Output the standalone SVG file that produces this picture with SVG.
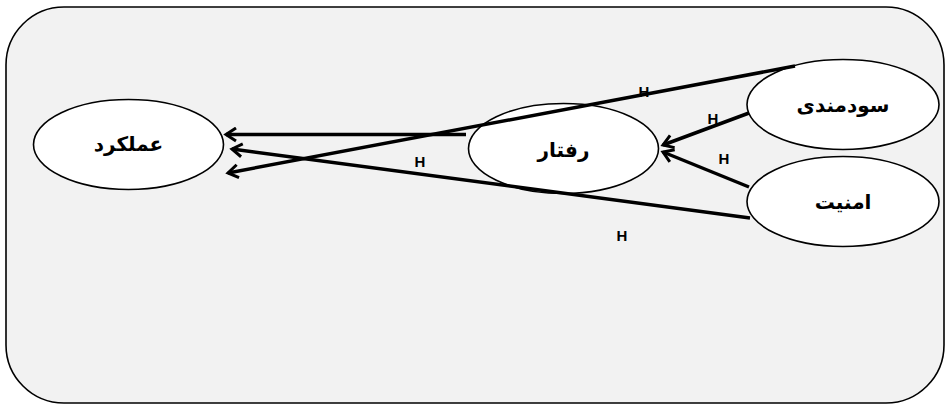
<svg xmlns="http://www.w3.org/2000/svg" width="948" height="408" viewBox="0 0 948 408">
<defs>
<marker id="arr" markerWidth="16" markerHeight="16" viewBox="0 0 16 16" refX="13" refY="8" orient="auto" markerUnits="userSpaceOnUse">
<polyline points="3,1.5 13,8 3,14.5" fill="none" stroke="#000" stroke-width="3"/>
</marker>
<style>
.node ellipse{fill:#fff;stroke:#000;stroke-width:1.6}
.node text{font-family:"DejaVu Sans","Noto Sans",sans-serif;font-weight:bold;font-size:20px;text-anchor:middle;dominant-baseline:central;fill:#000}
.edge{stroke:#000;stroke-width:3.5;fill:none}
.arr{marker-end:url(#arr)}
.lbl{font-family:"Liberation Sans",Arial,sans-serif;font-size:15px;font-weight:bold;fill:#000;text-anchor:middle}
</style>
</defs>
<rect x="6" y="7" width="938" height="396" rx="58" ry="58" fill="#f2f2f2" stroke="#000" stroke-width="1.6"/>
<g id="node-amalkard" class="node"><ellipse cx="128.5" cy="144.5" rx="95" ry="45"/><text x="128.5" y="144">عملکرد</text></g>
<g id="node-raftar" class="node"><ellipse cx="563.5" cy="148.5" rx="95" ry="45"/><text x="563.5" y="150">رفتار</text></g>
<g id="node-sudmandi" class="node"><ellipse cx="843" cy="104.5" rx="96" ry="45"/><text x="843" y="105">سودمندی</text></g>
<g id="node-amniat" class="node"><ellipse cx="843" cy="201.5" rx="96" ry="45"/><text x="843" y="202">امنیت</text></g>
<g id="connectors">
<line class="edge arr" x1="466" y1="134.5" x2="226" y2="134.5"/>
<line class="edge arr" x1="795" y1="66" x2="228" y2="173"/>
<line class="edge arr" x1="750" y1="218" x2="232" y2="149"/>
<line class="edge arr" x1="749" y1="113" x2="663" y2="145"/>
<line class="edge arr" x1="749" y1="187" x2="663" y2="152"/>
</g>
<g id="labels">
<text class="lbl" x="644" y="97">H</text>
<text class="lbl" x="713" y="124">H</text>
<text class="lbl" x="724" y="164">H</text>
<text class="lbl" x="420" y="167">H</text>
<text class="lbl" x="622" y="241">H</text>
</g>
</svg>
